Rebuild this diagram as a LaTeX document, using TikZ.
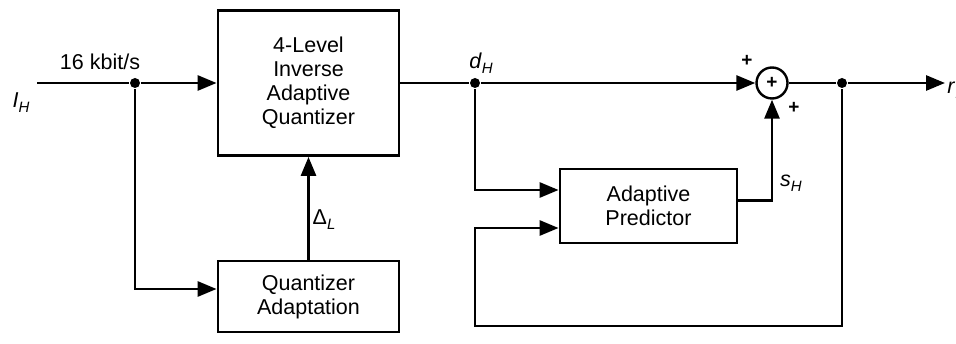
\documentclass[tikz,border=0pt]{standalone}
\usepackage{fontspec}
\setmainfont{Liberation Sans}
\usetikzlibrary{arrows.meta,calc}
\newcommand\lbl[2]{\textit{#1}\raisebox{-0.45ex}{\fontsize{15}{15}\selectfont\textit{#2}}}
\tikzset{
  blk/.style={draw, rectangle, align=center, inner sep=0pt, font=\fontsize{21.5}{24}\selectfont},
  dot/.style={circle, fill, inner sep=0pt, minimum size=10pt},
  txt/.style={inner sep=0pt, font=\fontsize{21.5}{24}\selectfont},
  arr/.style={-{Triangle[length=19pt,width=15pt]}},
}
\begin{document}
\begin{tikzpicture}[x=1pt,y=-1pt, line width=2.8pt, line join=miter]
\useasboundingbox (0,0) rectangle (956,344);
% blocks
\node[blk, minimum width=181pt, minimum height=145pt] (q) at (308.5,83) {4-Level\\Inverse\\Adaptive\\Quantizer};
\node[blk, minimum width=181pt, minimum height=71pt] (qa) at (308.5,296.5) {Quantizer\\Adaptation};
\node[blk, minimum width=177pt, minimum height=74pt] (ap) at (648.5,206) {Adaptive\\Predictor};
\node[draw, circle, inner sep=0pt, minimum size=31pt, line width=2.4pt, font=\fontsize{19}{19}\selectfont\bfseries] (sum) at (772,83) {+};
% junctions
\coordinate (in) at (37,83);
\node[dot] (b1) at (135,83) {};
\node[dot] (dh) at (475,83) {};
\node[dot] (b2) at (842,83) {};
\coordinate (out) at (945,83);
\coordinate (fb) at (475,326);
% connectors
\draw (in) -- (b1);
\draw[arr] (b1) -- (q.west);
\draw[arr] (b1) |- ($(qa.west)+(0,-7.5)$);
\draw[arr] (qa.north) -- (q.south);
\draw (q.east) -- (dh);
\draw[arr] (dh) -- (sum.west);
\draw[arr] (dh) |- ($(ap.west)+(0,-16)$);
\draw[arr] (b2) |- (fb) |- ($(ap.west)+(0,22)$);
\draw[arr] ($(ap.east)+(0,-5.5)$) -| (sum.south);
\draw (sum.east) -- (b2);
\draw[arr] (b2) -- (out);
% labels
\node[txt] (rate) at (100,62) {16 kbit/s};
\node[txt] (lih) at (21,103) {\lbl{I}{H}};
\node[txt] (ldh) at (481,63) {\lbl{d}{H}};
\node[txt] (lsh) at (791,183) {\lbl{s}{H}};
\node[txt] (ldl) at (324,220) {Δ\raisebox{-0.45ex}{\fontsize{15}{15}\selectfont\textit{L}}};
\node[txt, font=\fontsize{19}{19}\selectfont\bfseries] (p1) at (747,61) {+};
\node[txt, font=\fontsize{19}{19}\selectfont\bfseries] (p2) at (794,108) {+};
\node[txt, anchor=west] (lrh) at (946,90) {\lbl{r}{H}};
\end{tikzpicture}
\end{document}
